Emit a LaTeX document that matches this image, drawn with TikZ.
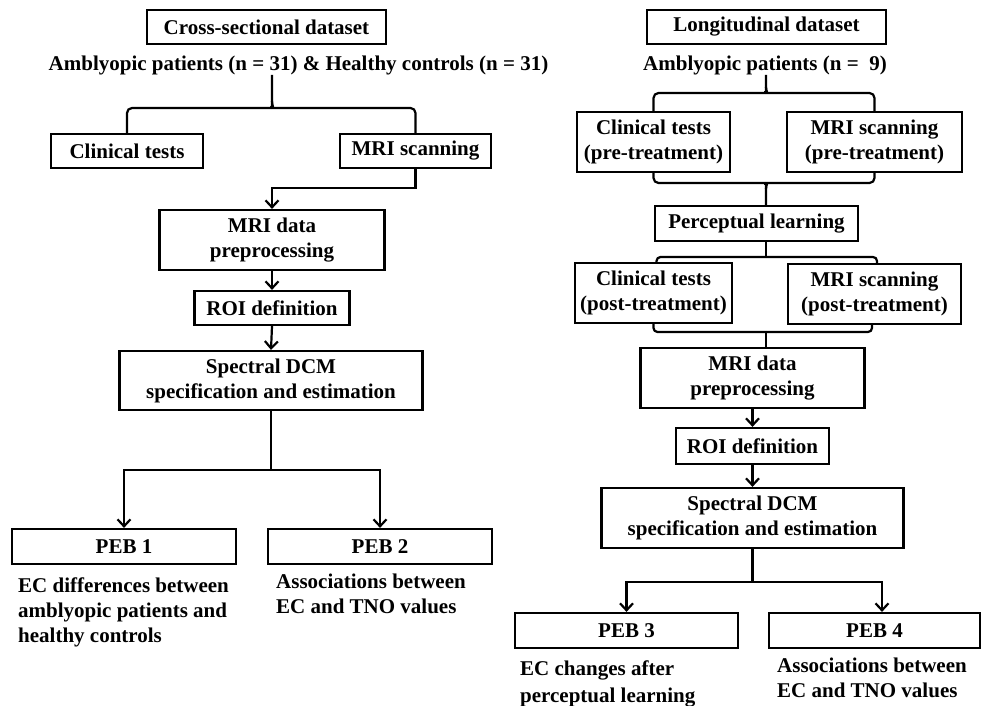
\documentclass[tikz,border=0pt]{standalone}
\usepackage{fontspec}
\setmainfont{Liberation Serif}
\usetikzlibrary{arrows.meta}
\newcommand\figfont{\fontsize{21}{25}\selectfont\bfseries}
\begin{document}
\begin{tikzpicture}[x=1pt,y=-1pt,
  box/.style={draw, line width=2.2pt, inner sep=0pt, align=center, font=\figfont},
  txt/.style={inner sep=0pt, align=left, font=\figfont},
  conn/.style={line width=2.2pt},
  arr/.style={conn, -{Straight Barb[length=7pt,width=13pt]}}]
\useasboundingbox (0,0) rectangle (982,706);
% ---------- left column ----------
\node[box, minimum width=239, minimum height=34] (cs) at (266.5,27) {Cross-sectional dataset};
\node[txt, inner sep=0pt] (amb1) at (298.5,65) {Amblyopic patients (n = 31) \& Healthy controls (n = 31)};
\node[box, minimum width=152, minimum height=34] (clin) at (127,151) {Clinical tests};
\node[box, minimum width=151, minimum height=34] (mri) at (415.5,151) {MRI scanning};
\node[box, minimum width=225, minimum height=60] (pre) at (272,240) {MRI data\\preprocessing};
\node[box, minimum width=155, minimum height=34] (roi) at (272,308) {ROI definition};
\node[box, minimum width=303, minimum height=59] (spec) at (271,380.5) {Spectral DCM\\specification and estimation};
\node[box, minimum width=224, minimum height=35] (peb1) at (124,546.5) {PEB 1};
\node[box, minimum width=224, minimum height=35] (peb2) at (380,546.5) {PEB 2};
\node[txt, anchor=north west] (d1) at (18,578) {EC differences between\\amblyopic patients and\\healthy controls};
\node[txt, anchor=north west] (d2) at (276,574) {Associations between\\EC and TNO values};
\coordinate (lb) at (272,108);
\draw[conn, rounded corners=5] (clin.north) |- (266,108) .. controls (270,108) and (272,106) .. (272,101) -- (lb |- amb1.south);
\draw[conn, rounded corners=5] (mri.north) |- (278,108) .. controls (274,108) and (272,106) .. (272,101);
\draw[arr] (mri.south) |- ([yshift=21pt]pre.north) -- (pre.north);
\draw[arr] (pre.south) -- (roi.north);
\draw[arr] (roi.south) -- (spec.north);
\coordinate (ls) at (271,470);
\draw[conn] (spec.south) -- (ls);
\draw[arr] (ls) -| (peb1.north);
\draw[arr] (ls) -| (peb2.north);
% ---------- right column ----------
\node[box, minimum width=239, minimum height=34] (ld) at (766.5,27) {Longitudinal dataset};
\node[txt] (amb2) at (765,65) {Amblyopic patients (n = \ 9)};
\node[box, minimum width=153, minimum height=60] (cpre) at (653.5,142) {Clinical tests\\(pre-treatment)};
\node[box, minimum width=175, minimum height=60] (mpre) at (874.5,142) {MRI scanning\\(pre-treatment)};
\node[box, minimum width=203, minimum height=35] (perc) at (756.5,223.5) {Perceptual learning};
\node[box, minimum width=157, minimum height=60] (cpost) at (653.5,293) {Clinical tests\\(post-treatment)};
\node[box, minimum width=173, minimum height=60] (mpost) at (874.5,294) {MRI scanning\\(post-treatment)};
\node[box, minimum width=224, minimum height=60] (pre2) at (752.5,378) {MRI data\\preprocessing};
\node[box, minimum width=153, minimum height=36] (roi2) at (752.5,446) {ROI definition};
\node[box, minimum width=302, minimum height=60] (spec2) at (752.5,518) {Spectral DCM\\specification and estimation};
\node[box, minimum width=223, minimum height=35] (peb3) at (626.5,630.5) {PEB 3};
\node[box, minimum width=211, minimum height=35] (peb4) at (874.5,630.5) {PEB 4};
\node[txt, anchor=north west, font=\fontsize{21}{27}\selectfont\bfseries] (d3) at (520,661) {EC changes after\\perceptual learning};
\node[txt, anchor=north west] (d4) at (777,658) {Associations between\\EC and TNO values};
% brace under amb2
\coordinate (rb) at (766,93);
\draw[conn, rounded corners=5] (cpre.north) |- (760,93) .. controls (764,93) and (766,91) .. (766,87) -- (rb |- amb2.south);
\draw[conn, rounded corners=5] (mpre.north) |- (772,93) .. controls (768,93) and (766,91) .. (766,87);
% bracket under pre-treatment
\coordinate (rj) at (766,183);
\draw[conn, rounded corners=5] (cpre.south) |- (760,183) .. controls (764,183) and (766,185) .. (766,189) -- (rj |- perc.north);
\draw[conn, rounded corners=5] (mpre.south) |- (772,183) .. controls (768,183) and (766,185) .. (766,189);
% bracket over post-treatment
\coordinate (rk) at (766,257);
\draw[conn] (rk |- perc.south) -- (rk);
\draw[conn, rounded corners=4] (rk) -| ([xshift=3pt]cpost.north);
\draw[conn, rounded corners=4] (rk) -| ([xshift=2.5pt]mpost.north);
% bracket under post-treatment
\coordinate (rm) at (766,332);
\draw[conn, rounded corners=4] (cpost.south) |- (rm);
\draw[conn, rounded corners=4] ([xshift=-2.5pt]mpost.south) |- (rm);
\draw[conn] (rm) -- (rm |- pre2.north);
\draw[arr] (pre2.south) -- (roi2.north);
\draw[arr] (roi2.south) -- (spec2.north);
\coordinate (rs) at (752.5,582);
\draw[conn] (spec2.south) -- (rs);
\draw[arr] (rs) -| (peb3.north);
\draw[arr] (rs) -| ([xshift=7.5pt]peb4.north);
\end{tikzpicture}
\end{document}
